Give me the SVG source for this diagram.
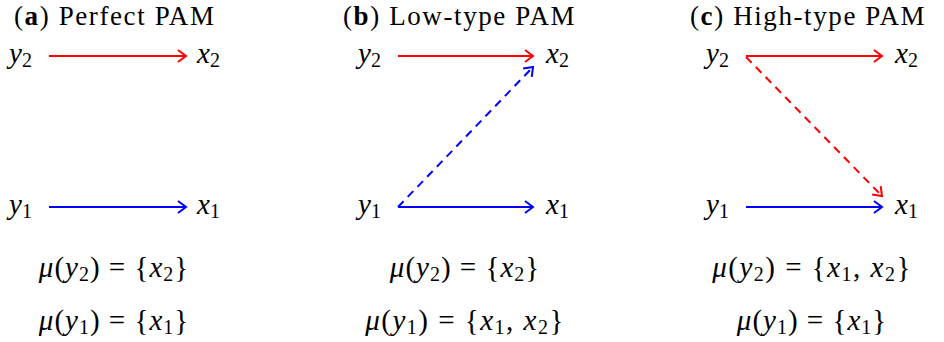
<svg xmlns="http://www.w3.org/2000/svg" width="944" height="342" viewBox="0 0 944 342" font-family="'Liberation Serif', 'Times New Roman', serif">
<style>
text{font-family:'Liberation Serif','Times New Roman',serif;fill:#000;}
.t{font-size:27px;letter-spacing:1.6px;}
.m{font-size:29px;}
.i{font-style:italic;}
.b{font-weight:bold;}
.s{font-size:20px;font-style:normal;}
.red{stroke:#ff0000;}
.blue{stroke:#0000ff;}
.ln{stroke-width:2;fill:none;}
.d{stroke-dasharray:8 6;}
</style>
<defs>
<marker id="ar" markerWidth="12" markerHeight="16" refX="0" refY="0" viewBox="-10 -8 12 16" orient="auto" markerUnits="userSpaceOnUse">
<path d="M-8,-6 Q-2,-1.5 0,0 Q-2,1.5 -8,6" fill="none" stroke="#ff0000" stroke-width="2"/>
</marker>
<marker id="ab" markerWidth="12" markerHeight="16" refX="0" refY="0" viewBox="-10 -8 12 16" orient="auto" markerUnits="userSpaceOnUse">
<path d="M-8,-6 Q-2,-1.5 0,0 Q-2,1.5 -8,6" fill="none" stroke="#0000ff" stroke-width="2"/>
</marker>
</defs>

<g id="titles">
<text class="t" x="14" y="25">(<tspan class="b">a</tspan>) Perfect PAM</text>
<text class="t" x="343" y="25">(<tspan class="b">b</tspan>) Low-type PAM</text>
<text class="t" x="690" y="25">(<tspan class="b">c</tspan>) High-type PAM</text>
</g>

<g id="a-y2"><text class="m i" x="9" y="63">y<tspan class="s" dy="4">2</tspan></text></g>
<g id="a-x2"><text class="m i" x="197" y="63">x<tspan class="s" dy="4">2</tspan></text></g>
<g id="a-y1"><text class="m i" x="9" y="214">y<tspan class="s" dy="4">1</tspan></text></g>
<g id="a-x1"><text class="m i" x="197" y="214">x<tspan class="s" dy="4">1</tspan></text></g>

<g id="b-y2"><text class="m i" x="358" y="63">y<tspan class="s" dy="4">2</tspan></text></g>
<g id="b-x2"><text class="m i" x="546" y="63">x<tspan class="s" dy="4">2</tspan></text></g>
<g id="b-y1"><text class="m i" x="358" y="214">y<tspan class="s" dy="4">1</tspan></text></g>
<g id="b-x1"><text class="m i" x="546" y="214">x<tspan class="s" dy="4">1</tspan></text></g>

<g id="c-y2"><text class="m i" x="706" y="63">y<tspan class="s" dy="4">2</tspan></text></g>
<g id="c-x2"><text class="m i" x="895" y="63">x<tspan class="s" dy="4">2</tspan></text></g>
<g id="c-y1"><text class="m i" x="706" y="214">y<tspan class="s" dy="4">1</tspan></text></g>
<g id="c-x1"><text class="m i" x="895" y="214">x<tspan class="s" dy="4">1</tspan></text></g>

<g id="connectors">
<line class="ln red" x1="49" y1="56" x2="186" y2="56" marker-end="url(#ar)"/>
<line class="ln blue" x1="49" y1="207" x2="186" y2="207" marker-end="url(#ab)"/>
<line class="ln red" x1="398" y1="56" x2="533" y2="56" marker-end="url(#ar)"/>
<line class="ln blue" x1="398" y1="207" x2="533" y2="207" marker-end="url(#ab)"/>
<line class="ln blue d" x1="398" y1="207" x2="533" y2="67" marker-end="url(#ab)"/>
<line class="ln red" x1="746" y1="56" x2="882" y2="56" marker-end="url(#ar)"/>
<line class="ln blue" x1="746" y1="207" x2="882" y2="207" marker-end="url(#ab)"/>
<line class="ln red d" x1="746" y1="57" x2="882" y2="196" marker-end="url(#ar)"/>
</g>

<g id="formulas">
<text class="m" x="114" y="277" text-anchor="middle" letter-spacing="1"><tspan class="i">μ</tspan>(<tspan class="i">y</tspan><tspan class="s" dy="4">2</tspan><tspan dy="-4">) = {</tspan><tspan class="i">x</tspan><tspan class="s" dy="4">2</tspan><tspan dy="-4">}</tspan></text>
<text class="m" x="114" y="330" text-anchor="middle" letter-spacing="1"><tspan class="i">μ</tspan>(<tspan class="i">y</tspan><tspan class="s" dy="4">1</tspan><tspan dy="-4">) = {</tspan><tspan class="i">x</tspan><tspan class="s" dy="4">1</tspan><tspan dy="-4">}</tspan></text>
<text class="m" x="465" y="277" text-anchor="middle" letter-spacing="1"><tspan class="i">μ</tspan>(<tspan class="i">y</tspan><tspan class="s" dy="4">2</tspan><tspan dy="-4">) = {</tspan><tspan class="i">x</tspan><tspan class="s" dy="4">2</tspan><tspan dy="-4">}</tspan></text>
<text class="m" x="465" y="330" text-anchor="middle" letter-spacing="1.5"><tspan class="i">μ</tspan>(<tspan class="i">y</tspan><tspan class="s" dy="4">1</tspan><tspan dy="-4">) = {</tspan><tspan class="i">x</tspan><tspan class="s" dy="4">1</tspan><tspan dy="-4">, </tspan><tspan class="i">x</tspan><tspan class="s" dy="4">2</tspan><tspan dy="-4">}</tspan></text>
<text class="m" x="812" y="277" text-anchor="middle" letter-spacing="1.5"><tspan class="i">μ</tspan>(<tspan class="i">y</tspan><tspan class="s" dy="4">2</tspan><tspan dy="-4">) = {</tspan><tspan class="i">x</tspan><tspan class="s" dy="4">1</tspan><tspan dy="-4">, </tspan><tspan class="i">x</tspan><tspan class="s" dy="4">2</tspan><tspan dy="-4">}</tspan></text>
<text class="m" x="812" y="330" text-anchor="middle" letter-spacing="1"><tspan class="i">μ</tspan>(<tspan class="i">y</tspan><tspan class="s" dy="4">1</tspan><tspan dy="-4">) = {</tspan><tspan class="i">x</tspan><tspan class="s" dy="4">1</tspan><tspan dy="-4">}</tspan></text>
</g>
</svg>
